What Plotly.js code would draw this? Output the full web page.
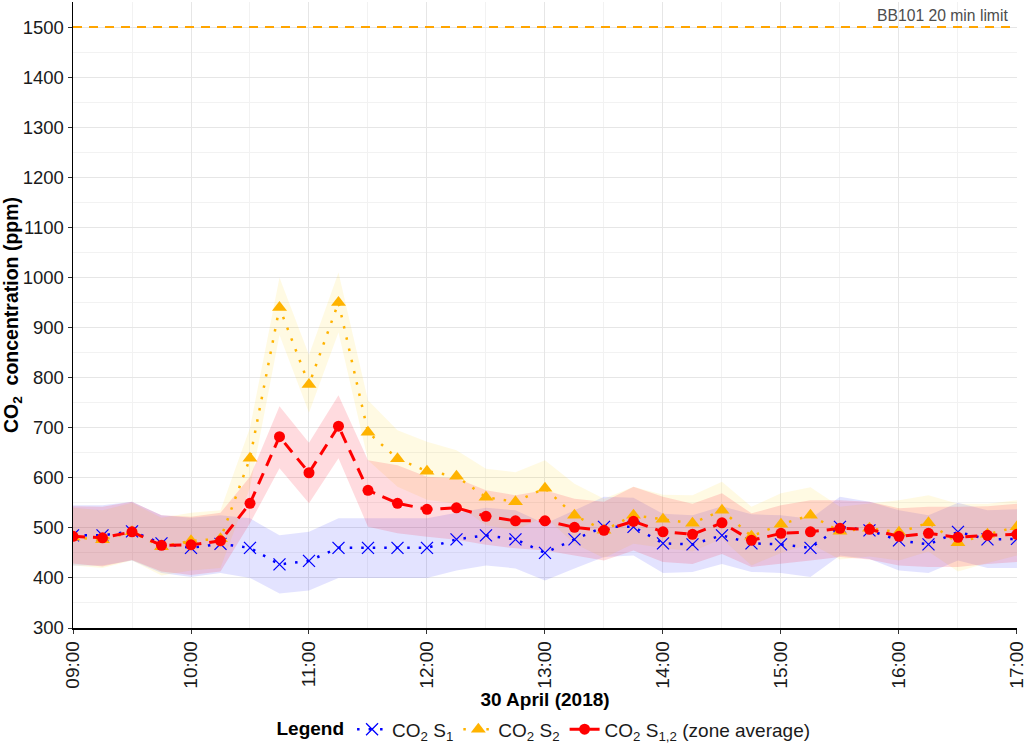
<!DOCTYPE html>
<html>
<head>
<meta charset="utf-8">
<script src="https://cdn.plot.ly/plotly-3.0.1.min.js"></script>
<style>html,body{margin:0;padding:0;background:#fff;}#chart{width:1024px;height:745px;}</style>
</head>
<body>
<div id="chart"></div>
<script>
// Time stamps (15-minute intervals, 30 April 2018)
var times = ["09:00","09:15","09:30","09:45","10:00","10:15","10:30","10:45","11:00","11:15","11:30","11:45",
             "12:00","12:15","12:30","12:45","13:00","13:15","13:30","13:45","14:00","14:15","14:30","14:45",
             "15:00","15:15","15:30","15:45","16:00","16:15","16:30","16:45","17:00"];

// CO2 sensor S1 (ppm)
var s1Mean  = [485,485,493,469,460,468,460,427,434,460,460,460,460,477,485,477,450,477,502,502,469,467,485,469,467,460,502,495,475,467,492,477,478];
var s1Upper = [545,545,552,525,520,525,519,485,492,519,519,519,519,530,540,535,508,535,562,560,528,525,543,527,525,518,562,552,535,525,550,535,537];
var s1Lower = [425,425,435,410,402,410,400,369,375,400,400,400,400,415,425,419,395,419,442,445,410,412,428,412,410,402,445,438,415,410,435,420,420];

// CO2 sensor S2 (ppm)
var s2Mean  = [481,476,492,462,474,478,639,940,786,950,691,638,613,603,561,552,579,525,495,525,517,509,535,483,507,525,493,499,491,510,470,487,502];
var s2Upper = [540,535,550,520,530,535,700,1000,845,1010,755,695,672,655,618,611,635,588,558,582,566,565,592,542,569,581,542,548,555,565,548,548,555];
var s2Lower = [425,420,435,405,415,420,580,885,730,890,635,582,556,548,505,495,522,468,440,468,460,453,478,425,450,468,437,443,435,453,413,430,445];

// Zone average S1,2 (ppm)
var s12Mean  = [483,480,492,465,466,474,549,682,610,703,575,549,537,540,523,514,514,501,495,513,492,487,510,475,489,492,499,497,483,489,481,485,487];
var s12Upper = [543,542,552,525,522,530,602,743,670,765,635,625,602,599,575,565,575,558,552,582,562,548,569,529,545,555,555,552,539,542,542,543,548];
var s12Lower = [429,423,436,413,406,413,509,619,549,639,502,489,482,476,466,459,455,445,435,455,432,428,448,422,428,435,442,437,425,422,422,428,432];

// Hour tick labels
var hourTicks = ["09:00","10:00","11:00","12:00","13:00","14:00","15:00","16:00","17:00"];

// Limit
var limitValue = 1500;
var limitLabel = "BB101 20 min limit";

var day = "2018-04-30 ";
var xDates = times.map(function(t){ return day + t; });
var tickDates = hourTicks.map(function(t){ return day + t; });

function band(lower, upper, fillcolor) {
  return [
    {x: xDates, y: lower, type: "scatter", mode: "lines", line: {width: 0}, hoverinfo: "skip", showlegend: false},
    {x: xDates, y: upper, type: "scatter", mode: "lines", line: {width: 0}, fill: "tonexty", fillcolor: fillcolor, hoverinfo: "skip", showlegend: false}
  ];
}

var traces = [];
traces = traces.concat(band(s1Lower, s1Upper, "rgba(0,0,255,0.11)"));
traces = traces.concat(band(s2Lower, s2Upper, "rgba(255,205,0,0.11)"));
traces = traces.concat(band(s12Lower, s12Upper, "rgba(255,0,30,0.14)"));

traces.push({
  x: xDates, y: s1Mean, type: "scatter", mode: "lines+markers",
  name: "CO<sub>2</sub> S<sub>1</sub>",
  line: {color: "#0000ff", width: 2.5, dash: "2.5px,9px"},
  marker: {symbol: "x-thin-open", size: 12, color: "#0000ff", line: {color: "#0000ff", width: 1.3}}
});
traces.push({
  x: xDates, y: s2Mean, type: "scatter", mode: "lines+markers",
  name: "CO<sub>2</sub> S<sub>2</sub>",
  line: {color: "#ffb300", width: 2.5, dash: "2.5px,9px"},
  marker: {symbol: "triangle-up", size: 13, color: "#ffb300"}
});
traces.push({
  x: xDates, y: s12Mean, type: "scatter", mode: "lines+markers",
  name: "CO<sub>2</sub> S<sub>1,2</sub> (zone average)",
  line: {color: "#ff0000", width: 3, dash: "12px,8px"},
  marker: {symbol: "circle", size: 11, color: "#ff0000"}
});

var fontFam = "Liberation Sans, Arial, sans-serif";

var layout = {
  width: 1024, height: 745,
  margin: {l: 73, r: 7, t: 2, b: 117},
  paper_bgcolor: "#ffffff", plot_bgcolor: "#ffffff",
  font: {family: fontFam, size: 19, color: "#1a1a1a"},
  showlegend: true,
  legend: {
    orientation: "h", xref: "paper", x: 0.5, xanchor: "center",
    yref: "container", y: 0.021, yanchor: "middle",
    title: {text: "<b>Legend</b>", font: {size: 19, color: "#000"}},
    font: {size: 19, color: "#1a1a1a"}, traceorder: "normal"
  },
  xaxis: {
    type: "date", automargin: false,
    range: [day + "09:00", day + "17:00:01"],
    tickmode: "array", tickvals: tickDates, ticktext: hourTicks, tickangle: -90,
    ticklabeloverflow: "allow",
    tickfont: {size: 19, color: "#1a1a1a"},
    showgrid: true, gridcolor: "#e6e6e6", gridwidth: 1,
    minor: {dtick: 1800000, tick0: day + "09:00", showgrid: true, gridcolor: "#f2f2f2", gridwidth: 1},
    showline: true, linecolor: "#000", linewidth: 1.5,
    ticks: "outside", ticklen: 4, tickcolor: "#333", tickwidth: 1,
    zeroline: false,
    title: {text: "<b>30 April (2018)</b>", font: {size: 19, color: "#000"}, standoff: 2}
  },
  yaxis: {
    range: [300, 1550], automargin: false,
    dtick: 100, tick0: 300,
    tickfont: {size: 18.5, color: "#1a1a1a"},
    showgrid: true, gridcolor: "#e6e6e6", gridwidth: 1,
    minor: {dtick: 50, showgrid: true, gridcolor: "#f2f2f2", gridwidth: 1},
    showline: true, linecolor: "#000", linewidth: 1.5,
    ticks: "outside", ticklen: 4, tickcolor: "#333", tickwidth: 1,
    zeroline: false,
    title: {text: "<b>CO<sub>2</sub>  concentration (ppm)</b>", font: {size: 19.5, color: "#000"}, standoff: 4}
  },
  shapes: [{
    type: "line", xref: "paper", x0: 0, x1: 1, yref: "y", y0: limitValue, y1: limitValue,
    line: {color: "#ffa500", width: 2, dash: "9px,7px"}, layer: "above"
  }],
  annotations: [{
    xref: "paper", x: 0.993, xanchor: "right", yref: "y", y: limitValue, yanchor: "bottom", yshift: 1,
    text: limitLabel, showarrow: false, font: {size: 15.7, color: "#4d4d4d"}
  }]
};

Plotly.newPlot("chart", traces, layout, {displayModeBar: false, staticPlot: true});
</script>
</body>
</html>
